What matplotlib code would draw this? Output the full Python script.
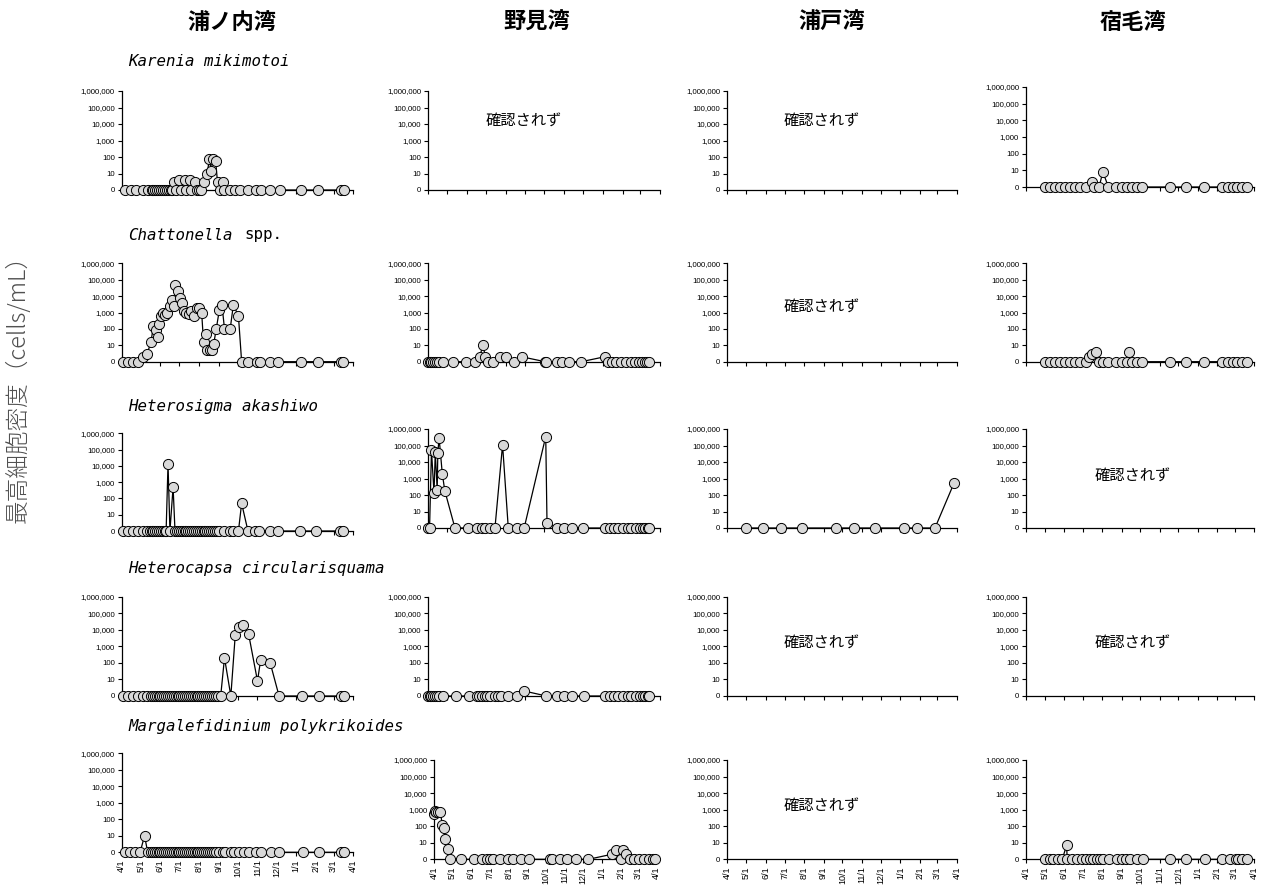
# Harmful algal bloom max cell density: 5 species x 4 bays small-multiples
import matplotlib
matplotlib.use("Agg")
import numpy as np
import pandas as pd
import matplotlib.pyplot as plt

bays = ["浦ノ内湾", "野見湾", "浦戸湾", "宿毛湾"]
species = ["Karenia mikimotoi", "Chattonella", "Heterosigma akashiwo",
           "Heterocapsa circularisquama", "Margalefidinium polykrikoides"]
ytick_labels = ["0", "10", "100", "1,000", "10,000", "100,000", "1,000,000"]
month_labels = ["4/1", "5/1", "6/1", "7/1", "8/1", "9/1", "10/1",
                "11/1", "12/1", "1/1", "2/1", "3/1", "4/1"]
not_found = "\u78ba\u8a8d\u3055\u308c\u305a"   # 確認されず

# ---- 浦ノ内湾 ----
uranouchi_karenia_dates = [
    "4/6", "4/15", "4/24", "5/4", "5/13", "5/18", "5/21", "5/24", "5/27", "5/30",
    "6/2", "6/5", "6/8", "6/11", "6/14", "6/17", "6/20", "6/23", "6/26", "7/1",
    "7/4", "7/9", "7/12", "7/17", "7/20", "7/25", "7/28", "8/1", "8/4", "8/9",
    "8/14", "8/17", "8/20", "8/23", "8/27", "8/30", "9/3", "9/7", "9/10", "9/18",
    "9/26", "10/4", "10/17", "10/30", "11/7", "11/20", "12/6", "1/9", "2/4", "3/13",
    "3/18"]
uranouchi_karenia_cells = [
    0, 0, 0, 0, 0, 0, 0, 0, 0, 0,
    0, 0, 0, 0, 0, 0, 0, 3, 0, 4,
    0, 4, 0, 4, 0, 3, 0, 0, 0, 3,
    10, 80, 15, 80, 60, 3, 0, 3, 0, 0,
    0, 0, 0, 0, 0, 0, 0, 0, 0, 0,
    0]

uranouchi_chattonella_dates = [
    "4/3", "4/11", "4/19", "4/27", "5/5", "5/11", "5/17", "5/21", "5/25", "5/28",
    "5/30", "6/2", "6/5", "6/8", "6/12", "6/16", "6/20", "6/23", "6/24", "6/28",
    "7/2", "7/5", "7/8", "7/11", "7/16", "7/20", "7/24", "7/29", "8/1", "8/5",
    "8/8", "8/12", "8/14", "8/18", "8/22", "8/24", "8/28", "9/2", "9/6", "9/10",
    "9/19", "9/24", "10/2", "10/7", "10/17", "10/31", "11/5", "11/20", "12/3", "1/9",
    "2/4", "3/13", "3/15"]
uranouchi_chattonella_cells = [
    0, 0, 0, 0, 2, 3, 15, 150, 80, 30,
    200, 600, 900, 700, 1000, 2500, 6000, 2500, 45000, 20000,
    8000, 4000, 1200, 1000, 800, 1200, 600, 2000, 1800, 1000,
    15, 50, 5, 5, 5, 12, 100, 1500, 3000, 100,
    100, 3000, 600, 0, 0, 0, 0, 0, 0, 0,
    0, 0, 0]

uranouchi_heterosigma_dates = [
    "4/3", "4/11", "4/19", "4/27", "5/5", "5/11", "5/15", "5/18", "5/21", "5/24",
    "5/27", "5/30", "6/2", "6/5", "6/8", "6/10", "6/13", "6/16", "6/21", "6/24",
    "6/27", "6/30", "7/3", "7/6", "7/9", "7/12", "7/15", "7/18", "7/21", "7/24",
    "7/27", "7/30", "8/2", "8/5", "8/8", "8/11", "8/14", "8/17", "8/20", "8/23",
    "8/26", "8/29", "9/1", "9/9", "9/18", "9/24", "10/2", "10/7", "10/17", "10/28",
    "11/4", "11/20", "12/3", "1/7", "2/2", "3/11", "3/16"]
uranouchi_heterosigma_cells = [
    0, 0, 0, 0, 0, 0, 0, 0, 0, 0,
    0, 0, 0, 0, 0, 0, 13000, 0, 500, 0,
    0, 0, 0, 0, 0, 0, 0, 0, 0, 0,
    0, 0, 0, 0, 0, 0, 0, 0, 0, 0,
    0, 0, 0, 0, 0, 0, 0, 50, 0, 0,
    0, 0, 0, 0, 0, 0, 0]

uranouchi_heterocapsa_dates = [
    "4/3", "4/11", "4/19", "4/27", "5/5", "5/11", "5/17", "5/20", "5/23", "5/26",
    "5/29", "6/1", "6/4", "6/7", "6/10", "6/13", "6/16", "6/19", "6/22", "6/25",
    "6/28", "7/1", "7/4", "7/7", "7/10", "7/13", "7/16", "7/19", "7/22", "7/25",
    "7/28", "7/31", "8/3", "8/6", "8/9", "8/12", "8/15", "8/18", "8/21", "8/24",
    "8/27", "8/30", "9/4", "9/10", "9/20", "9/27", "10/3", "10/9", "10/18", "11/1",
    "11/6", "11/21", "12/5", "1/10", "2/6", "3/13", "3/17"]
uranouchi_heterocapsa_cells = [
    0, 0, 0, 0, 0, 0, 0, 0, 0, 0,
    0, 0, 0, 0, 0, 0, 0, 0, 0, 0,
    0, 0, 0, 0, 0, 0, 0, 0, 0, 0,
    0, 0, 0, 0, 0, 0, 0, 0, 0, 0,
    0, 0, 0, 200, 0, 5000, 15000, 18000, 5500, 8,
    150, 100, 0, 0, 0, 0, 0]

uranouchi_margalefidinium_dates = [
    "4/6", "4/14", "4/22", "4/30", "5/7", "5/12", "5/17", "5/20", "5/23", "5/26",
    "5/29", "6/1", "6/4", "6/7", "6/10", "6/13", "6/16", "6/19", "6/22", "6/25",
    "6/28", "7/1", "7/4", "7/7", "7/10", "7/13", "7/16", "7/19", "7/22", "7/25",
    "7/28", "7/31", "8/3", "8/6", "8/9", "8/12", "8/15", "8/18", "8/21", "8/24",
    "8/27", "9/2", "9/7", "9/11", "9/20", "9/25", "10/3", "10/11", "10/19", "10/30",
    "11/6", "11/22", "12/5", "1/11", "2/6", "3/13", "3/18"]
uranouchi_margalefidinium_cells = [
    0, 0, 0, 0, 10, 0, 0, 0, 0, 0,
    0, 0, 0, 0, 0, 0, 0, 0, 0, 0,
    0, 0, 0, 0, 0, 0, 0, 0, 0, 0,
    0, 0, 0, 0, 0, 0, 0, 0, 0, 0,
    0, 0, 0, 0, 0, 0, 0, 0, 0, 0,
    0, 0, 0, 0, 0, 0, 0]

# ---- 野見湾 ----
nomi_chattonella_dates = [
    "4/1", "4/3", "4/5", "4/8", "4/11", "4/14", "4/18", "4/24", "5/10", "5/31",
    "6/13", "6/21", "6/26", "6/30", "7/4", "7/12", "7/23", "8/1", "8/14", "8/26",
    "10/2", "10/3", "10/20", "10/28", "11/9", "11/28", "1/4", "1/9", "1/16", "1/22",
    "1/30", "2/7", "2/15", "2/21", "2/27", "3/4", "3/8", "3/12", "3/15"]
nomi_chattonella_cells = [
    0, 0, 0, 0, 0, 0, 0, 0, 0, 0,
    0, 2, 10, 2, 0, 0, 2, 2, 0, 2,
    0, 0, 0, 0, 0, 0, 2, 0, 0, 0,
    0, 0, 0, 0, 0, 0, 0, 0, 0]

nomi_heterosigma_dates = [
    "4/1", "4/3", "4/6", "4/10", "4/12", "4/15", "4/16", "4/18", "4/23", "4/27",
    "5/13", "6/3", "6/16", "6/24", "6/30", "7/7", "7/15", "7/27", "8/5", "8/18",
    "8/30", "10/3", "10/5", "10/21", "10/31", "11/13", "12/1", "1/5", "1/12", "1/18",
    "1/25", "2/1", "2/9", "2/15", "2/22", "2/28", "3/5", "3/9", "3/13", "3/15"]
nomi_heterosigma_cells = [
    0, 0, 50000, 130, 40000, 200, 35000, 300000, 2000, 180,
    0, 0, 0, 0, 0, 0, 0, 110000, 0, 0,
    0, 350000, 2, 0, 0, 0, 0, 0, 0, 0,
    0, 0, 0, 0, 0, 0, 0, 0, 0, 0]

nomi_heterocapsa_dates = [
    "4/1", "4/3", "4/5", "4/8", "4/11", "4/14", "4/18", "4/24", "5/14", "6/4",
    "6/16", "6/20", "6/24", "6/30", "7/3", "7/7", "7/15", "7/20", "7/25", "8/5",
    "8/18", "8/30", "10/4", "10/20", "10/31", "11/13", "12/3", "1/5", "1/12", "1/18",
    "1/25", "2/1", "2/9", "2/15", "2/22", "2/28", "3/5", "3/9", "3/13", "3/15"]
nomi_heterocapsa_cells = [
    0, 0, 0, 0, 0, 0, 0, 0, 0, 0,
    0, 0, 0, 0, 0, 0, 0, 0, 0, 0,
    0, 2, 0, 0, 0, 0, 0, 0, 0, 0,
    0, 0, 0, 0, 0, 0, 0, 0, 0, 0]

nomi_margalefidinium_dates = [
    "4/1", "4/2", "4/4", "4/7", "4/11", "4/14", "4/17", "4/18", "4/23", "4/26",
    "5/15", "6/5", "6/19", "6/26", "7/1", "7/7", "7/18", "7/31", "8/8", "8/22",
    "9/4", "10/8", "10/11", "10/25", "11/5", "11/20", "12/10", "1/17", "1/25", "2/2",
    "2/5", "2/10", "2/16", "2/22", "3/3", "3/11", "3/19", "3/26", "3/30"]
nomi_margalefidinium_cells = [
    550, 800, 700, 700, 750, 120, 80, 17, 4, 0,
    0, 0, 0, 0, 0, 0, 0, 0, 0, 0,
    0, 0, 0, 0, 0, 0, 0, 2, 3.5, 0,
    3.5, 2, 0, 0, 0, 0, 0, 0, 0]

# ---- 浦戸湾 ----
urado_heterosigma_dates = ["4/30", "5/28", "6/26", "7/28", "9/21", "10/19",
                           "11/22", "1/6", "1/28", "2/25", "3/27"]
urado_heterosigma_cells = [0, 0, 0, 0, 0, 0, 0, 0, 0, 0, 500]

# ---- 宿毛湾 ----
sukumo_karenia_dates = [
    "5/1", "5/9", "5/17", "5/25", "6/2", "6/10", "6/18", "6/26", "7/6", "7/16",
    "7/19", "7/27", "8/2", "8/11", "8/23", "9/1", "9/9", "9/17", "9/25", "10/4",
    "11/17", "12/13", "1/11", "2/9", "2/18", "2/26", "3/4", "3/12", "3/21"]
sukumo_karenia_cells = [
    0, 0, 0, 0, 0, 0, 0, 0, 0, 2,
    0, 0, 8, 0, 0, 0, 0, 0, 0, 0,
    0, 0, 0, 0, 0, 0, 0, 0, 0]

sukumo_chattonella_dates = [
    "5/1", "5/9", "5/17", "5/25", "6/2", "6/10", "6/18", "6/26", "7/6", "7/11",
    "7/16", "7/22", "7/27", "8/2", "8/11", "8/23", "9/1", "9/9", "9/13", "9/17",
    "9/25", "10/4", "11/17", "12/13", "1/11", "2/9", "2/18", "2/26", "3/4", "3/12",
    "3/21"]
sukumo_chattonella_cells = [
    0, 0, 0, 0, 0, 0, 0, 0, 0, 2,
    3, 4, 0, 0, 0, 0, 0, 0, 4, 0,
    0, 0, 0, 0, 0, 0, 0, 0, 0, 0,
    0]

sukumo_margalefidinium_dates = [
    "5/1", "5/9", "5/15", "5/22", "5/29", "6/5", "6/6", "6/13", "6/21", "6/29",
    "7/6", "7/12", "7/17", "7/23", "7/28", "8/3", "8/12", "8/25", "9/1", "9/8",
    "9/14", "9/25", "10/5", "11/17", "12/13", "1/12", "2/9", "2/21", "3/3", "3/7",
    "3/13", "3/21"]
sukumo_margalefidinium_cells = [
    0, 0, 0, 0, 0, 7, 0, 0, 0, 0,
    0, 0, 0, 0, 0, 0, 0, 0, 0, 0,
    0, 0, 0, 0, 0, 0, 0, 0, 0, 0,
    0, 0]

panels = {
    (0, 0): (uranouchi_karenia_dates, uranouchi_karenia_cells),
    (0, 3): (sukumo_karenia_dates, sukumo_karenia_cells),
    (1, 0): (uranouchi_chattonella_dates, uranouchi_chattonella_cells),
    (1, 1): (nomi_chattonella_dates, nomi_chattonella_cells),
    (1, 3): (sukumo_chattonella_dates, sukumo_chattonella_cells),
    (2, 0): (uranouchi_heterosigma_dates, uranouchi_heterosigma_cells),
    (2, 1): (nomi_heterosigma_dates, nomi_heterosigma_cells),
    (2, 2): (urado_heterosigma_dates, urado_heterosigma_cells),
    (3, 0): (uranouchi_heterocapsa_dates, uranouchi_heterocapsa_cells),
    (3, 1): (nomi_heterocapsa_dates, nomi_heterocapsa_cells),
    (4, 0): (uranouchi_margalefidinium_dates, uranouchi_margalefidinium_cells),
    (4, 1): (nomi_margalefidinium_dates, nomi_margalefidinium_cells),
    (4, 3): (sukumo_margalefidinium_dates, sukumo_margalefidinium_cells),
}

start = pd.Timestamp("2021-04-01")


def to_days(md_list):
    out = []
    for s in md_list:
        m, d = (int(v) for v in s.split("/"))
        yr = 2021 if m >= 4 else 2022
        out.append((pd.Timestamp(year=yr, month=m, day=d) - start).days)
    return np.array(out)


def to_log(cells):
    c = np.asarray(cells, dtype=float)
    return np.log10(np.where(c >= 1, c, 1))


month_ticks = (pd.date_range("2021-04-01", "2022-04-01", freq="MS") - start).days

# ---- layout in pixels ----
W, H = 1266, 894
col_x = [(121.7, 353.3), (428.3, 660.0), (727.3, 957.0), (1026.0, 1254.0)]
row_y = [(91, 190), (263.3, 361.7), (429, 528), (596.5, 696), (760, 859.3)]
pos_override = {
    (0, 3): (1026.0, 1254.0, 87, 187),
    (2, 0): (121.7, 353.3, 433.3, 531),
    (4, 0): (121.7, 353.3, 753.3, 852.3),
    (4, 1): (434.3, 656.7, 760, 859.3),
}
text_pos = {
    (0, 1): (0.41, 0.70), (0, 2): (0.41, 0.70), (1, 2): (0.41, 0.55),
    (2, 3): (0.47, 0.52), (3, 2): (0.41, 0.53), (3, 3): (0.47, 0.53),
    (4, 2): (0.41, 0.53),
}
species_y = [62, 235, 406, 569, 727]

fig = plt.figure(figsize=(W / 100, H / 100), dpi=100)
jp = ["Noto Sans CJK JP", "DejaVu Sans"]

for r in range(5):
    for c in range(4):
        if (r, c) in pos_override:
            x0, x1, yt, yb = pos_override[(r, c)]
        else:
            x0, x1 = col_x[c]
            yt, yb = row_y[r]
        ax = fig.add_axes([x0 / W, 1 - yb / H, (x1 - x0) / W, (yb - yt) / H])
        ax.set_xlim(0, 365)
        ax.set_ylim(0, 6)
        for s in ("top", "right"):
            ax.spines[s].set_visible(False)
        for s in ("left", "bottom"):
            ax.spines[s].set_linewidth(0.9)
            ax.spines[s].set_color("black")
        ax.set_yticks(range(7))
        ax.set_yticklabels(ytick_labels, fontsize=5.6, family="Liberation Sans")
        ax.set_xticks(month_ticks)
        if r == 4:
            ax.set_xticklabels(month_labels, rotation=90, fontsize=6.5,
                               family="Liberation Sans")
        else:
            ax.set_xticklabels([])
        ax.tick_params(axis="both", length=3, width=0.8, pad=2)
        ax.patch.set_alpha(0)

        if (r, c) in panels:
            d, v = panels[(r, c)]
            ax.plot(to_days(d), to_log(v), color="black", lw=0.9,
                    marker="o", ms=7.3, mfc="#d9d9d9", mec="black", mew=0.7,
                    clip_on=False, zorder=3)
        else:
            tx, ty = text_pos[(r, c)]
            ax.text(tx, ty, not_found, transform=ax.transAxes, ha="center",
                    va="center", fontsize=11, family=jp)

# column titles
title_x = [232, 537, 832, 1133]
for c, name in enumerate(bays):
    fig.text(title_x[c] / W, 1 - 22 / H, name, ha="center", va="center",
             fontsize=16, fontweight="bold", family=jp)

# species labels
for r, name in enumerate(species):
    fig.text(128 / W, 1 - species_y[r] / H, name, ha="left", va="center",
             fontsize=11.3, family="DejaVu Sans Mono", style="oblique")
fig.text(244 / W, 1 - species_y[1] / H, "spp.", ha="left", va="center",
         fontsize=11.3, family="DejaVu Sans Mono")

# y label
fig.text(18 / W, 1 - 383 / H, "最高細胞密度（cells/mL）", rotation=90,
         ha="center", va="center", fontsize=17, fontweight="light",
         color="#505050", family=jp)

fig.savefig("out.png", dpi=100)
